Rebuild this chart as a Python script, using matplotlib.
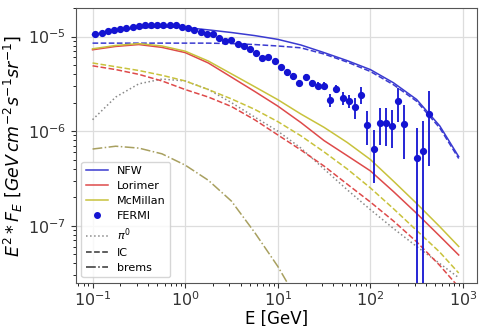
import numpy as np
import matplotlib
matplotlib.use("Agg")
import matplotlib.pyplot as plt
from matplotlib.lines import Line2D

# ---------------- data ----------------
E_model = [0.1, 0.178, 0.316, 0.562, 1.0, 1.78, 3.16, 5.62, 10, 17.8,
           31.6, 56.2, 100, 178, 316, 562, 900]

nfw_total = [1.047e-5, 1.161e-5, 1.230e-5, 1.259e-5, 1.245e-5, 1.175e-5, 1.102e-5,
             1.023e-5, 9.33e-6, 8.13e-6, 6.76e-6, 5.56e-6, 4.47e-6, 3.24e-6,
             2.16e-6, 1.135e-6, 5.37e-7]
nfw_ic = [8.51e-6, 8.51e-6, 8.51e-6, 8.51e-6, 8.51e-6, 8.51e-6, 8.41e-6, 8.22e-6,
          7.94e-6, 7.59e-6, 6.53e-6, 5.37e-6, 4.27e-6, 3.09e-6, 2.07e-6, 1.08e-6, 5.13e-7]

lorimer_total = [7.24e-6, 7.85e-6, 8.22e-6, 7.67e-6, 6.76e-6, 5.25e-6, 3.72e-6,
                 2.63e-6, 1.84e-6, 1.23e-6, 7.94e-7, 5.50e-7, 3.80e-7, 2.29e-7,
                 1.35e-7, 7.76e-8, 4.90e-8]
lorimer_ic = [4.90e-6, 4.47e-6, 3.98e-6, 3.39e-6, 2.75e-6, 2.29e-6, 1.82e-6, 1.32e-6,
              9.12e-7, 6.31e-7, 4.27e-7, 2.75e-7, 1.78e-7, 1.12e-7, 6.76e-8, 3.80e-8, 2.24e-8]

mcmillan_total = [7.41e-6, 8.04e-6, 8.41e-6, 7.94e-6, 7.00e-6, 5.50e-6, 4.03e-6,
                  2.95e-6, 2.15e-6, 1.514e-6, 1.096e-6, 7.59e-7, 5.01e-7, 2.95e-7,
                  1.718e-7, 9.77e-8, 6.03e-8]
mcmillan_ic = [5.25e-6, 4.79e-6, 4.37e-6, 3.89e-6, 3.39e-6, 2.75e-6, 2.19e-6, 1.70e-6,
               1.26e-6, 8.91e-7, 6.03e-7, 3.98e-7, 2.51e-7, 1.51e-7, 8.91e-8, 5.25e-8, 3.16e-8]

pi0 = [1.32e-6, 2.29e-6, 3.16e-6, 3.55e-6, 3.39e-6, 2.75e-6, 2.00e-6, 1.41e-6,
       1.00e-6, 6.61e-7, 3.98e-7, 2.40e-7, 1.48e-7, 9.33e-8, 6.03e-8, 3.98e-8, 2.82e-8]

E_brems = [0.1, 0.178, 0.316, 0.562, 1.0, 1.78, 3.16, 5.62, 10, 17.8]
brems = [6.46e-7, 6.92e-7, 6.61e-7, 5.75e-7, 4.37e-7, 3.02e-7, 1.82e-7, 8.51e-8,
         3.72e-8, 1.41e-8]

fermi_E = [0.1076, 0.1256, 0.1464, 0.1706, 0.1990, 0.2319, 0.2704, 0.3153, 0.3677,
           0.4287, 0.4999, 0.5829, 0.6796, 0.7924, 0.9240, 1.077, 1.256, 1.465,
           1.708, 1.992, 2.323, 2.709, 3.159, 3.683, 4.295, 5.008, 5.840, 6.810,
           7.941, 9.259, 10.80, 12.59, 14.68, 17.12, 19.96, 23.28, 27.14, 31.65,
           36.91, 43.04, 50.19, 58.52, 68.24, 79.58, 92.79, 108.2, 126.2, 147.1,
           171.6, 200.1, 233.3, 317.2, 369.9, 431.3]
fermi_F = [1.05e-5, 1.09e-5, 1.13e-5, 1.17e-5, 1.21e-5, 1.24e-5, 1.27e-5, 1.29e-5,
           1.32e-5, 1.32e-5, 1.32e-5, 1.31e-5, 1.32e-5, 1.32e-5, 1.27e-5, 1.22e-5,
           1.16e-5, 1.11e-5, 1.07e-5, 1.06e-5, 9.6e-6, 8.91e-6, 9.08e-6, 8.37e-6,
           7.89e-6, 7.41e-6, 6.73e-6, 5.96e-6, 6.04e-6, 5.48e-6, 4.78e-6, 4.19e-6,
           3.80e-6, 3.24e-6, 3.75e-6, 3.24e-6, 3.03e-6, 3.03e-6, 2.12e-6, 2.80e-6,
           2.24e-6, 2.07e-6, 1.80e-6, 2.43e-6, 1.15e-6, 6.49e-7, 1.22e-6, 1.22e-6,
           1.14e-6, 2.07e-6, 1.20e-6, 5.20e-7, 6.11e-7, 1.53e-6]
# relative error bars (down / up)
fermi_rel_lo = [0.03] * 31 + [0.08] * 7 + [0.15, 0.10, 0.15, 0.15, 0.25, 0.20,
                0.375, 0.564, 0.41, 0.43, 0.42, 0.39, 0.58, 1.0, 1.0, 0.72]
fermi_rel_hi = [0.03] * 31 + [0.08] * 7 + [0.15, 0.10, 0.15, 0.15, 0.25, 0.20,
                0.41, 0.60, 0.45, 0.44, 0.48, 0.38, 0.59, 1.08, 1.08, 0.73]

# ---------------- styling ----------------
c_nfw = "#3a3ad0"
c_lor = "#de4a4a"
c_mcm = "#c8c23c"
c_pts = "#1414d2"
c_pi0 = "#8a8a8a"

fig = plt.figure(figsize=(4.8, 3.26), dpi=100)
ax = fig.add_axes([0.158, 0.132, 0.835, 0.844])
ax.set_xscale("log")
ax.set_yscale("log")

lw = 1.1
ax.plot(E_model, pi0, color=c_pi0, ls=":", lw=lw)
ax.plot(E_brems, brems, color="#a8a060", ls="-.", lw=lw)

ax.plot(E_model, lorimer_ic, color=c_lor, ls="--", lw=lw)
ax.plot(E_model, mcmillan_ic, color=c_mcm, ls="--", lw=lw)
ax.plot(E_model, nfw_ic, color=c_nfw, ls="--", lw=lw)

ax.plot(E_model, lorimer_total, color=c_lor, lw=lw)
ax.plot(E_model, mcmillan_total, color=c_mcm, lw=lw)
ax.plot(E_model, nfw_total, color=c_nfw, lw=lw)

F = np.array(fermi_F)
yerr = np.vstack([F * np.array(fermi_rel_lo), F * np.array(fermi_rel_hi)])
ax.errorbar(fermi_E, fermi_F, yerr=yerr, fmt="o", color=c_pts, ms=4.2,
            elinewidth=1.3, capsize=0, zorder=5)

ax.set_xlim(0.066, 1406)
ax.set_ylim(2.48e-8, 2.01e-5)

ax.grid(True, which="major", color="#dddddd", lw=0.9)
for s in ax.spines.values():
    s.set_color("#555555")
ax.tick_params(labelsize=11.5, colors="#333333")
ax.tick_params(axis="x", which="major", pad=2)
ax.set_xlabel("E [GeV]", fontsize=12, labelpad=0)
ax.set_ylabel(r"$E^2 * F_E\ [GeV\,cm^{-2}s^{-1}sr^{-1}]$", fontsize=12.5, labelpad=2)

handles = [
    Line2D([], [], color=c_nfw, lw=lw),
    Line2D([], [], color=c_lor, lw=lw),
    Line2D([], [], color=c_mcm, lw=lw),
    Line2D([], [], color=c_pts, marker="o", ls="none", ms=4),
    Line2D([], [], color=c_pi0, ls=":", lw=lw),
    Line2D([], [], color="#333333", ls="--", lw=lw),
    Line2D([], [], color="#333333", ls="-.", lw=lw),
]
labels = ["NFW", "Lorimer", "McMillan", "FERMI", r"$\pi^0$", "IC", "brems"]
ax.legend(handles, labels, loc="lower left", fontsize=8, framealpha=0.8,
          labelspacing=0.45, borderaxespad=0.5)

fig.savefig("out.png", dpi=100)
